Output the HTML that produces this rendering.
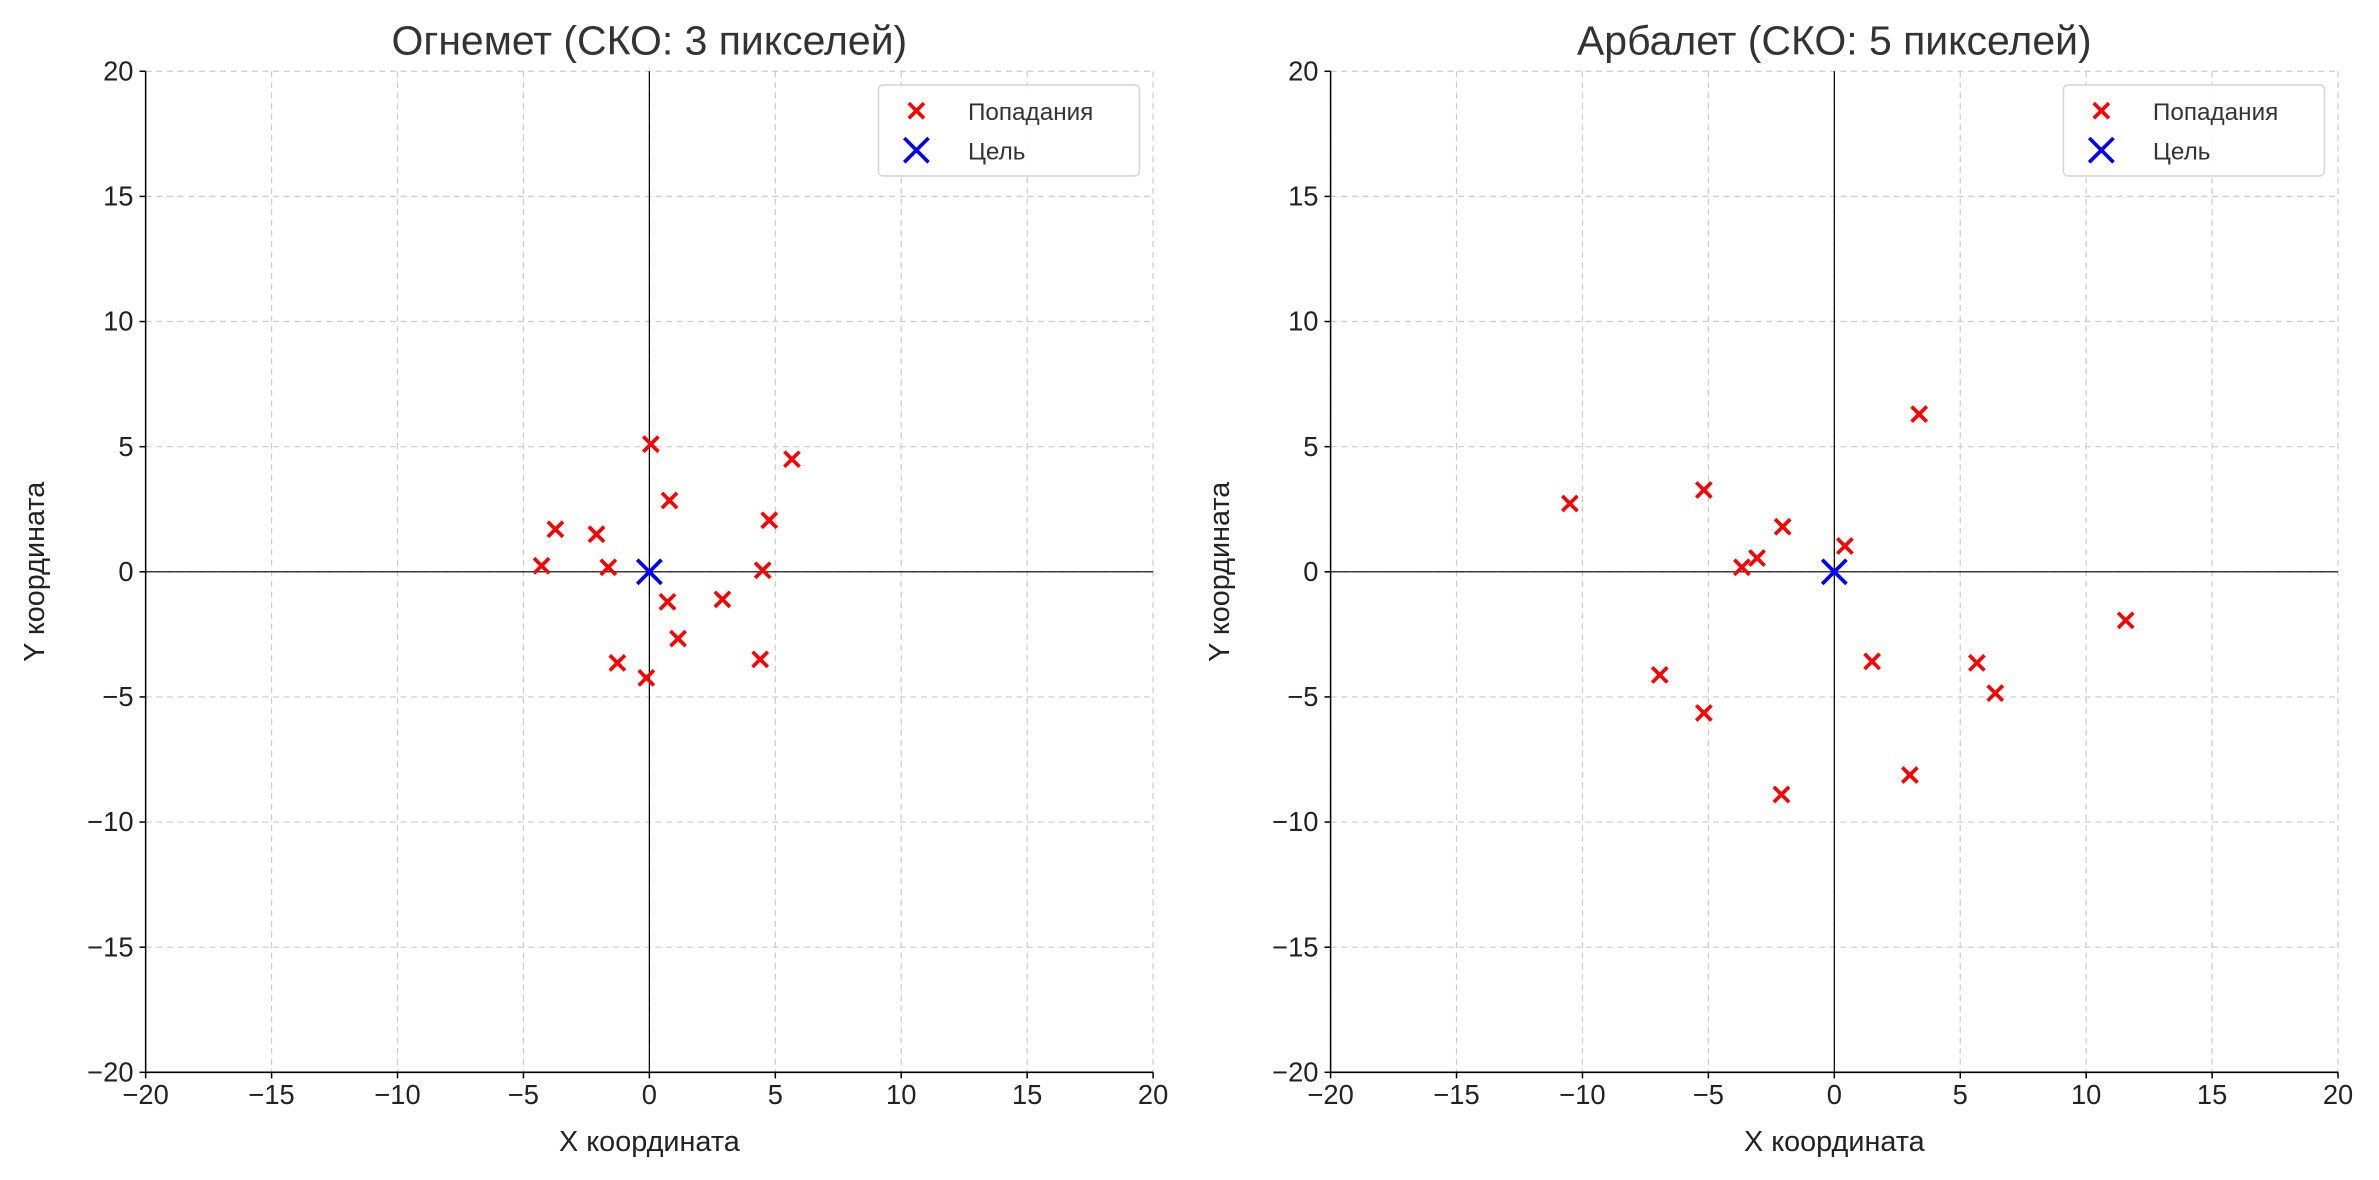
<!DOCTYPE html>
<html><head><meta charset="utf-8">
<style>
html,body{margin:0;padding:0;background:#fff;}
svg{display:block;font-family:"Liberation Sans","DejaVu Sans",sans-serif;}
</style></head>
<body>
<svg id="chart" width="2379" height="1180" viewBox="0 0 1568 778" preserveAspectRatio="none" xmlns="http://www.w3.org/2000/svg"></svg>
<script>
const ticks = [-20,-15,-10,-5,0,5,10,15,20];
const tickLabels = ["−20","−15","−10","−5","0","5","10","15","20"];
const titles = ["Огнемет (СКО: 3 пикселей)","Арбалет (СКО: 5 пикселей)"];
const hitsX1 = [0.06,5.66,0.8,-3.73,-2.1,4.76,-4.28,-1.63,4.5,2.9,0.72,1.14,-1.27,4.4,-0.12];
const hitsY1 = [5.1,4.5,2.85,1.7,1.5,2.06,0.24,0.18,0.06,-1.1,-1.2,-2.67,-3.64,-3.5,-4.24];
const hitsX2 = [3.37,-10.5,-5.18,-2.05,0.42,-3.07,-3.67,11.57,1.5,5.66,-6.93,6.39,-5.18,3.0,-2.1];
const hitsY2 = [6.3,2.73,3.27,1.8,1.03,0.55,0.18,-1.94,-3.58,-3.64,-4.12,-4.85,-5.64,-8.12,-8.9];
const targetX = [0];
const targetY = [0];

const NS="http://www.w3.org/2000/svg";
const svg=document.getElementById('chart');
function mk(tag,attrs,parent){const e=document.createElementNS(NS,tag);for(const k in attrs)e.setAttribute(k,attrs[k]);(parent||svg).appendChild(e);return e;}

const panels=[{x0:96,x1:760,hx:hitsX1,hy:hitsY1,name:'flamethrower'},{x0:877,x1:1541,hx:hitsX2,hy:hitsY2,name:'crossbow'}];
const Y0=47,Y1=707;

function cross(g,cx,cy,r,color,w,name){
  const p=mk('path',{d:`M${cx-r},${cy-r}L${cx+r},${cy+r}M${cx-r},${cy+r}L${cx+r},${cy-r}`,stroke:color,'stroke-width':w,fill:'none'},g);
  
  
  return p;
}

panels.forEach((P,i)=>{
  const sx=v=>P.x0+(v+20)/40*(P.x1-P.x0);
  const sy=v=>Y1-(v+20)/40*(Y1-Y0);
  const g=mk('g',{});
  
  
  ticks.forEach(t=>{
    const gl=mk('line',{x1:sx(t),x2:sx(t),y1:Y0,y2:Y1,stroke:'#cccccc','stroke-width':0.8,'stroke-dasharray':'4,3'},g);
    
    
    const gh=mk('line',{x1:P.x0,x2:P.x1,y1:sy(t),y2:sy(t),stroke:'#cccccc','stroke-width':0.8,'stroke-dasharray':'4,3'},g);
    
    
  });
  const zx=mk('line',{x1:P.x0,x2:P.x1,y1:sy(0),y2:sy(0),stroke:'#000','stroke-width':0.8},g);
  
  
  const zy=mk('line',{x1:sx(0),x2:sx(0),y1:Y0,y2:Y1,stroke:'#000','stroke-width':0.8},g);
  
  
  const sl=mk('line',{x1:P.x0,x2:P.x0,y1:Y0,y2:Y1,stroke:'#000','stroke-width':1},g);
  
  
  const sb=mk('line',{x1:P.x0,x2:P.x1,y1:Y1,y2:Y1,stroke:'#000','stroke-width':1},g);
  
  
  ticks.forEach((t,k)=>{
    mk('line',{x1:sx(t),x2:sx(t),y1:Y1,y2:Y1+4,stroke:'#000','stroke-width':1},g);
    const tx=mk('text',{x:sx(t),y:Y1+21,'text-anchor':'middle','font-size':18,fill:'#222'},g);
    tx.textContent=tickLabels[k];
    
    
    mk('line',{x1:P.x0-4,x2:P.x0,y1:sy(t),y2:sy(t),stroke:'#000','stroke-width':1},g);
    const ty=mk('text',{x:P.x0-8,y:sy(t)+6,'text-anchor':'end','font-size':18,fill:'#222'},g);
    ty.textContent=tickLabels[k];
    
    
  });
  const xl=mk('text',{x:(P.x0+P.x1)/2,y:759,'text-anchor':'middle','font-size':19,fill:'#222'},g);
  xl.textContent='X координата';
  
  
  const yl=mk('text',{x:0,y:0,'text-anchor':'middle','font-size':19,fill:'#222',transform:`translate(${P.x0-67},${(Y0+Y1)/2}) rotate(-90)`},g);
  yl.textContent='Y координата';
  
  
  const tt=mk('text',{x:(P.x0+P.x1)/2,y:36,'text-anchor':'middle','font-size':27,fill:'#333'},g);
  tt.textContent=titles[i];
  
  
  P.hx.forEach((v,k)=>{cross(g,sx(v),sy(P.hy[k]),5,'#ff0000',2.4,'hit-marker');});
  targetX.forEach((v,k)=>{cross(g,sx(v),sy(targetY[k]),8,'#0000ff',2.4,'target-marker');});
  const lx=P.x1-181, ly=56;
  const lg=mk('g',{},g);
  
  
  mk('rect',{x:lx,y:ly,width:172,height:60,rx:3,fill:'#fff','fill-opacity':0.85,stroke:'#d6d6d6','stroke-width':1},lg);
  cross(lg,lx+25,ly+17,5,'#ff0000',2.4,'legend-hit-icon');
  cross(lg,lx+25,ly+43,8,'#0000ff',2.4,'legend-target-icon');
  const t1=mk('text',{x:lx+59,y:ly+23,'font-size':16,fill:'#333'},lg);
  t1.textContent='Попадания';
  
  
  const t2=mk('text',{x:lx+59,y:ly+49,'font-size':16,fill:'#333'},lg);
  t2.textContent='Цель';
  
  
});
</script>
</body></html>
